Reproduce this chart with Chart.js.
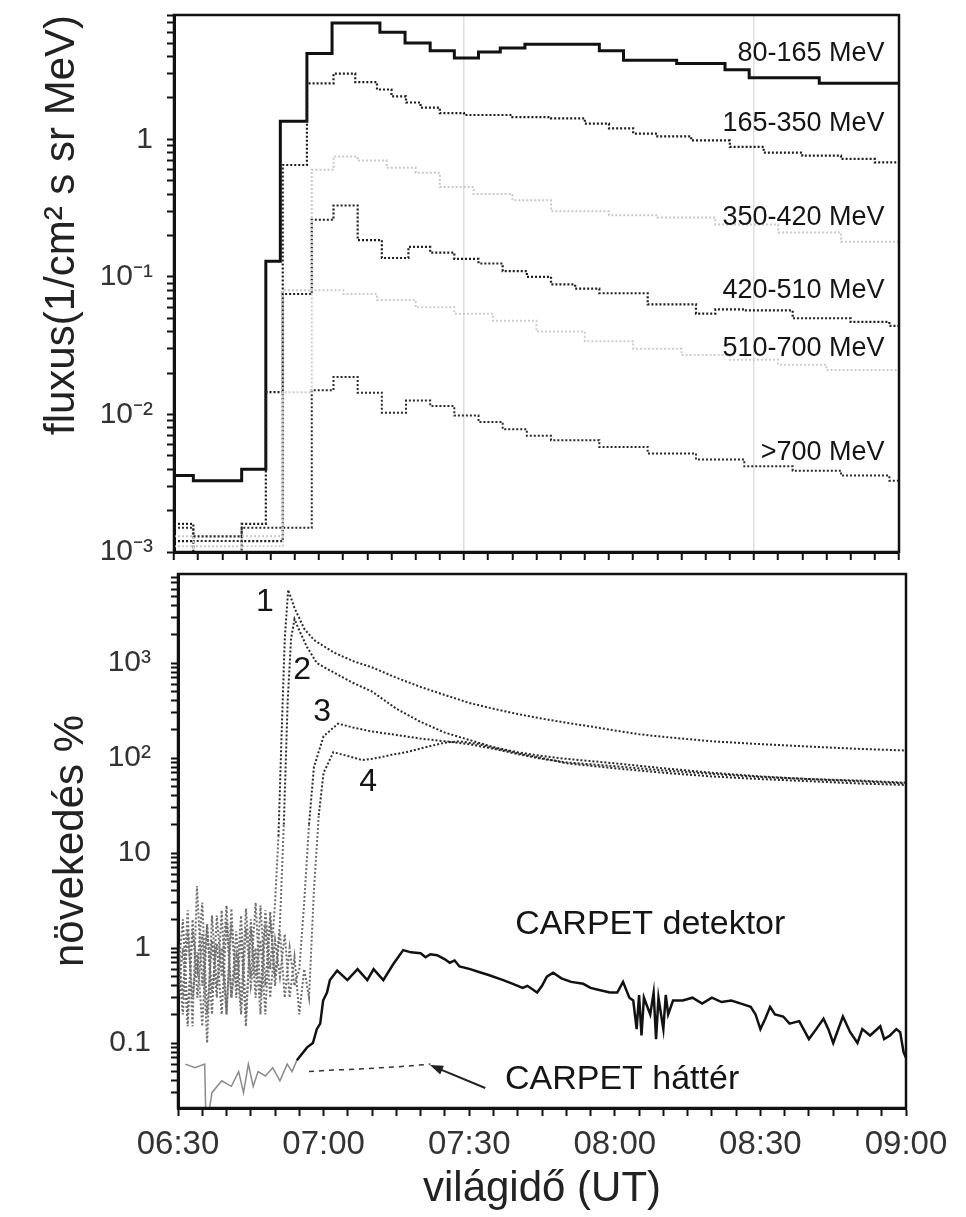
<!DOCTYPE html>
<html>
<head>
<meta charset="utf-8">
<script src="https://cdn.jsdelivr.net/npm/chart.js@4.4.1/dist/chart.umd.min.js"></script>
<style>
  html, body { margin: 0; padding: 0; background: #fff; }
  #wrap { position: relative; width: 966px; height: 1217px; overflow: hidden; }
  canvas { position: absolute; left: 0; }
  #fluxChart { top: 0; }
  #incChart { top: 560px; }
</style>
</head>
<body>
<div id="wrap">
  <canvas id="fluxChart" width="966" height="580"></canvas>
  <canvas id="incChart" width="966" height="657"></canvas>
</div>
<script>
// time is in minutes after 06:30 UT
var timeLabels = ['06:30', '07:00', '07:30', '08:00', '08:30', '09:00'];

var fluxTickVals = [0.001, 0.01, 0.1, 1];
var fluxTickText = ['10\u207B\u00B3', '10\u207B\u00B2', '10\u207B\u00B9', '1'];
var incTickVals = [0.1, 1, 10, 100, 1000];
var incTickText = ['0.1', '1', '10', '10\u00B2', '10\u00B3'];

// upper panel: proton flux per energy channel, [minute, flux]
var ch80 = [[0,0.0036],[4,0.0033],[14,0.0040],[19,0.13],[22,1.35],[27.5,4.2],[32.7,7.0],[42.6,6.0],[47.8,5.0],[53,4.4],
  [58,3.9],[63,4.3],[67.5,4.6],[72.6,4.9],[88,4.4],[93,3.75],[104,3.55],[114,3.2],[119,2.8],[133.5,2.55],[150,2.55]];
var ch165 = [[0,0.0016],[4,0.0013],[14,0.0016],[19,0.0145],[22.5,0.65],[27.5,2.55],[33,3.0],[37.5,2.6],[42,2.3],[45,2.05],
  [48,1.85],[51,1.7],[55,1.55],[60,1.5],[70,1.45],[78,1.42],[85,1.3],[90,1.2],[95,1.1],[100,1.05],[107,0.98],[115,0.88],
  [122,0.8],[130,0.76],[138,0.72],[145,0.68],[150,0.68]];
var ch350 = [[0,0.0013],[4,0.0011],[14,0.0013],[22.5,0.08],[28.5,0.6],[33,0.75],[38,0.7],[44,0.62],[50,0.57],[55,0.45],
  [62,0.4],[70,0.36],[78,0.3],[90,0.28],[100,0.27],[112,0.24],[125,0.21],[138,0.18],[150,0.16]];
var ch420 = [[0,0.0012],[4,0.001],[14,0.0012],[22.5,0.075],[28.5,0.26],[33,0.33],[38,0.185],[43,0.137],[48.5,0.165],[53,0.15],
  [58,0.135],[63,0.125],[68,0.11],[73,0.1],[78,0.088],[83,0.082],[88,0.076],[98,0.063],[108,0.054],[112,0.058],[118,0.057],
  [128,0.05],[140,0.047],[148,0.044],[150,0.044]];
var ch510 = [[0,0.0011],[4,0.001],[14,0.0011],[22.5,0.0145],[28.5,0.08],[35,0.075],[42,0.068],[50,0.06],[58,0.054],[66,0.048],
  [75,0.04],[85,0.034],[95,0.03],[105,0.027],[115,0.025],[125,0.023],[135,0.021],[150,0.02]];
var ch700 = [[0,0.0015],[4,0.0012],[14,0.0015],[28.5,0.015],[33,0.0187],[38,0.0144],[43,0.0103],[48,0.0126],[53,0.0115],
  [58,0.0098],[63,0.0088],[68,0.0078],[73,0.007],[78,0.0065],[88,0.0058],[98,0.0052],[108,0.0047],[118,0.0042],[128,0.0039],
  [138,0.0036],[148,0.0033],[150,0.0033]];

// lower panel: increase in % for neutron monitors 1-4 and CARPET, [minute, %]
var nm1 = [[0,1.2],[1,0.3],[2,2.5],[3,0.15],[3.9,4.5],[5,0.4],[6,1.8],[7,0.2],[8,2.2],[9,0.5],[10,2.8],[11,0.3],[12,1.5],
  [13,0.25],[14,2.6],[15,0.5],[16,3.0],[17,0.3],[18,2.5],[19,0.6],[20,3],[20.7,15],[21.3,150],[22,1800],[22.7,5900],[24,3800],
  [26,2300],[28,1750],[32,1300],[36,1050],[40,900],[45,700],[50,560],[55,460],[60,380],[65,330],[70,290],[75,260],[80,235],
  [85,215],[90,195],[95,178],[100,167],[110,150],[120,140],[130,132],[140,125],[150,120]];
var nm2 = [[0,0.5],[1,2.0],[2,0.2],[3,1.5],[4,0.6],[5,3.0],[6,0.2],[7,1.2],[8,0.3],[9,2.5],[10,0.2],[11,1.8],[12,0.4],[13,2.2],
  [14,0.2],[15,1.6],[16,0.3],[17,2.8],[18,0.4],[19,2.0],[20,0.5],[21,1.8],[21.8,20],[22.6,400],[23.3,1800],[24,2900],[25,2200],
  [26.5,1500],[28.6,1000],[32,800],[36,620],[40,500],[45,330],[50,240],[55,185],[60,155],[65,130],[70,115],[75,105],[80,98],
  [90,88],[100,78],[110,70],[120,64],[130,60],[140,58],[150,55]];
var nm3 = [[0,0.3],[1,1.0],[2,0.15],[3,2.0],[4,0.3],[5,1.4],[6,0.1],[7,2.2],[8,0.4],[9,1.0],[10,0.2],[11,2.6],[12,0.3],[13,1.3],
  [14,0.15],[15,2.0],[16,0.5],[17,1.2],[18,0.2],[19,2.4],[20,0.4],[21,1.5],[22,0.3],[23,1.0],[24,0.4],[25,0.6],[26,3],[27,20],
  [28,80],[30,170],[33,230],[36,210],[40,190],[45,175],[50,160],[55,150],[60,140],[65,125],[70,110],[75,98],[80,90],[90,82],
  [100,74],[110,68],[120,63],[130,60],[140,57],[150,54]];
var nm4 = [[0,0.8],[1,0.2],[2,1.5],[3,0.3],[4,0.9],[5,0.15],[6,1.7],[7,0.35],[8,1.1],[9,0.2],[10,1.9],[11,0.3],[12,0.8],
  [13,0.2],[14,1.6],[15,0.4],[16,1.0],[17,0.2],[18,1.8],[19,0.3],[20,1.2],[21,0.5],[22,1.4],[23,0.3],[24,0.8],[25,0.2],[26,0.6],
  [27,0.3],[28,4],[29,25],[30,70],[32,115],[35,105],[38,95],[41,100],[44,108],[47,115],[51,130],[55,145],[58,150],[62,140],
  [66,125],[70,112],[75,100],[80,88],[90,78],[100,70],[110,64],[120,60],[130,57],[140,54],[150,52]];
var carpet = [[1.5,0.06],[3.5,0.055],[5.5,0.06],[5.8,0.012],[7,0.03],[9,0.04],[11,0.035],[12.5,0.05],[13.5,0.03],[14.5,0.06],
  [15.5,0.035],[16.5,0.05],[18,0.045],[19.5,0.055],[21,0.04],[22.5,0.06],[23.5,0.05],[24.5,0.066],[26.6,0.09],[27.8,0.1],
  [28.6,0.14],[29.3,0.16],[29.9,0.28],[30.7,0.34],[31.3,0.46],[32.8,0.58],[34.9,0.46],[37,0.6],[39,0.46],[40.3,0.6],[42.3,0.46],
  [44.3,0.67],[46.4,0.95],[48,0.9],[50,0.88],[51,0.8],[52,0.86],[53.4,0.84],[55,0.76],[56,0.7],[57,0.74],[58,0.64],[60.2,0.6],
  [62,0.56],[64,0.52],[67,0.46],[69,0.42],[71,0.38],[72,0.4],[74,0.34],[75,0.4],[76,0.5],[77.3,0.55],[79,0.48],[81,0.44],
  [83.5,0.42],[85,0.38],[87,0.36],[89,0.34],[90.5,0.34],[91.7,0.44],[93,0.3],[93.8,0.28],[94.5,0.14],[95,0.32],[95.5,0.12],
  [96,0.3],[97.3,0.2],[98,0.34],[98.5,0.11],[99,0.3],[100,0.14],[100.5,0.32],[101,0.2],[102,0.28],[104,0.28],[106,0.3],
  [108,0.26],[110,0.3],[112,0.27],[114,0.28],[116,0.26],[118,0.24],[119,0.2],[120,0.14],[121,0.18],[122,0.24],[123,0.2],
  [124.7,0.19],[126,0.16],[128,0.17],[130,0.11],[131.5,0.14],[133,0.18],[134,0.14],[135,0.1],[137,0.19],[138.5,0.13],[140,0.1],
  [141,0.14],[142.6,0.12],[144.7,0.15],[145.5,0.11],[146.7,0.12],[148,0.14],[148.8,0.13],[149.5,0.08],[150,0.07]];
var carpetBg = [[27,0.05],[32,0.052],[37,0.053],[42,0.055],[47,0.057],[52,0.06]];

Chart.defaults.font.family = "'Liberation Sans', Arial, sans-serif";
Chart.defaults.color = '#333';

function pts(list) {
  return list.map(function (p) { return { x: p[0], y: p[1] }; });
}

function logTicks(lo, hi) {
  var out = [];
  for (var e = -4; e <= 4; e++) {
    for (var m = 1; m <= 9; m++) {
      var v = +(m * Math.pow(10, e)).toPrecision(6);
      if (v >= lo * 0.9999 && v <= hi * 1.0001) out.push({ value: v });
    }
  }
  return out;
}

function tickText(vals, text) {
  return function (v) {
    for (var i = 0; i < vals.length; i++) {
      if (Math.abs(vals[i] - v) < vals[i] * 1e-6) return text[i];
    }
    return '';
  };
}

// frame around the plot plus the text notes, placed in data coordinates
function framePlugin(notes, arrow) {
  return {
    id: 'frame',
    afterDatasetsDraw: function (chart) {
      var a = chart.chartArea, ctx = chart.ctx;
      var xs = chart.scales.x, ys = chart.scales.y;
      ctx.save();
      ctx.strokeStyle = '#111';
      ctx.lineWidth = 2.5;
      ctx.strokeRect(a.left, a.top, a.right - a.left, a.bottom - a.top);
      notes.forEach(function (n) {
        ctx.font = n.font;
        ctx.fillStyle = '#151515';
        ctx.textAlign = n.align || 'center';
        ctx.textBaseline = 'middle';
        ctx.fillText(n.text, xs.getPixelForValue(n.t), ys.getPixelForValue(n.v));
      });
      if (arrow) {
        var x0 = xs.getPixelForValue(arrow[0][0]), y0 = ys.getPixelForValue(arrow[0][1]);
        var x1 = xs.getPixelForValue(arrow[1][0]), y1 = ys.getPixelForValue(arrow[1][1]);
        var ang = Math.atan2(y1 - y0, x1 - x0);
        ctx.strokeStyle = '#222';
        ctx.fillStyle = '#222';
        ctx.lineWidth = 2;
        ctx.beginPath();
        ctx.moveTo(x0, y0);
        ctx.lineTo(x1 - 8 * Math.cos(ang), y1 - 8 * Math.sin(ang));
        ctx.stroke();
        ctx.beginPath();
        ctx.moveTo(x1, y1);
        ctx.lineTo(x1 - 14 * Math.cos(ang - 0.35), y1 - 14 * Math.sin(ang - 0.35));
        ctx.lineTo(x1 - 14 * Math.cos(ang + 0.35), y1 - 14 * Math.sin(ang + 0.35));
        ctx.closePath();
        ctx.fill();
      }
      ctx.restore();
    }
  };
}

var chanFont = '27px "Liberation Sans", Arial, sans-serif';
var fluxNotes = [
  { text: '80-165 MeV', t: 147, v: 4.2, font: chanFont, align: 'right' },
  { text: '165-350 MeV', t: 147, v: 1.31, font: chanFont, align: 'right' },
  { text: '350-420 MeV', t: 147, v: 0.27, font: chanFont, align: 'right' },
  { text: '420-510 MeV', t: 147, v: 0.08, font: chanFont, align: 'right' },
  { text: '510-700 MeV', t: 147, v: 0.03, font: chanFont, align: 'right' },
  { text: '>700 MeV', t: 147, v: 0.0053, font: chanFont, align: 'right' }
];

var numFont = '32px "Liberation Sans", Arial, sans-serif';
var carpetFont = '34px "Liberation Sans", Arial, sans-serif';
var incNotes = [
  { text: '1', t: 17.9, v: 4380, font: numFont },
  { text: '2', t: 25.6, v: 845, font: numFont },
  { text: '3', t: 29.7, v: 305, font: numFont },
  { text: '4', t: 39.2, v: 56, font: numFont },
  { text: 'CARPET detektor', t: 97.3, v: 1.75, font: carpetFont },
  { text: 'CARPET h\u00E1tt\u00E9r', t: 91.5, v: 0.041, font: carpetFont }
];

function stepLine(data, color, width, dash) {
  return {
    data: pts(data), borderColor: color, borderWidth: width, borderDash: dash,
    stepped: 'before', pointRadius: 0, fill: false
  };
}

new Chart(document.getElementById('fluxChart'), {
  type: 'line',
  data: {
    datasets: [
      stepLine(ch350, '#c9c9c9', 2, [2, 2]),
      stepLine(ch510, '#cdcdcd', 2, [2, 2]),
      stepLine(ch700, '#2a2a2a', 2, [2, 2]),
      stepLine(ch420, '#1e1e1e', 2.2, [2, 2]),
      stepLine(ch165, '#1e1e1e', 2.2, [2, 2]),
      stepLine(ch80, '#111', 3, [])
    ]
  },
  options: {
    responsive: false,
    animation: false,
    devicePixelRatio: 1,
    layout: { padding: { top: 15, right: 67, left: 0, bottom: 0 } },
    plugins: { legend: { display: false }, tooltip: { enabled: false } },
    scales: {
      x: {
        type: 'linear', min: 0, max: 150,
        ticks: { display: false, stepSize: 5, autoSkip: false },
        grid: {
          color: function (c) { return (c.tick && (c.tick.value === 60 || c.tick.value === 120)) ? '#dedede' : 'rgba(0,0,0,0)'; },
          lineWidth: 1.5,
          tickColor: '#111', tickLength: 8, tickWidth: 2
        },
        border: { color: '#111', width: 3 },
        afterFit: function (s) { s.height = 28; s.paddingLeft = 0; s.paddingRight = 0; }
      },
      y: {
        type: 'logarithmic', min: 0.001, max: 8,
        afterBuildTicks: function (s) { s.ticks = logTicks(0.001, 8); },
        ticks: {
          autoSkip: false, padding: 14, color: '#333',
          font: { size: 30 },
          callback: tickText(fluxTickVals, fluxTickText)
        },
        grid: { drawOnChartArea: false, tickColor: '#111', tickLength: 7, tickWidth: 2 },
        border: { color: '#111', width: 3 },
        title: {
          display: true, text: 'fluxus(1/cm\u00B2 s sr MeV)', align: 'end', color: '#222',
          font: { size: 42 }, padding: { top: 37, bottom: 0 }
        },
        afterFit: function (s) { s.width = 174; s.paddingTop = 0; s.paddingBottom = 0; }
      }
    }
  },
  plugins: [framePlugin(fluxNotes, null)]
});

function monitorLine(data) {
  return {
    data: pts(data), borderColor: '#333', borderWidth: 2, borderDash: [2, 2],
    pointRadius: 0, fill: false, tension: 0,
    segment: {
      borderColor: function (c) { return Math.min(c.p0.parsed.y, c.p1.parsed.y) < 8 ? '#6e6e6e' : '#2a2a2a'; }
    }
  };
}

new Chart(document.getElementById('incChart'), {
  type: 'line',
  data: {
    datasets: [
      monitorLine(nm4),
      monitorLine(nm3),
      monitorLine(nm2),
      monitorLine(nm1),
      { data: pts(carpetBg), borderColor: '#333', borderWidth: 1.5, borderDash: [5, 5], pointRadius: 0, fill: false },
      {
        data: pts(carpet), borderColor: '#111', borderWidth: 2.5, pointRadius: 0, fill: false, tension: 0,
        segment: {
          borderColor: function (c) { return c.p1.parsed.x < 25 ? '#8a8a8a' : '#111'; },
          borderWidth: function (c) { return c.p1.parsed.x < 25 ? 1.5 : 2.5; }
        }
      }
    ]
  },
  options: {
    responsive: false,
    animation: false,
    devicePixelRatio: 1,
    layout: { padding: { top: 14, right: 60, left: 0, bottom: 0 } },
    plugins: { legend: { display: false }, tooltip: { enabled: false } },
    scales: {
      x: {
        type: 'linear', min: 0, max: 150,
        ticks: {
          stepSize: 5, autoSkip: false, maxRotation: 0, padding: 9, color: '#333',
          font: { size: 33 },
          callback: function (v) { return v % 30 === 0 ? timeLabels[v / 30] : ''; }
        },
        grid: { drawOnChartArea: false, tickColor: '#111', tickLength: 8, tickWidth: 2 },
        border: { color: '#111', width: 3 },
        title: {
          display: true, text: 'vil\u00E1gid\u0151 (UT)', color: '#222',
          font: { size: 42 }, padding: { top: 0, bottom: 2 }
        },
        afterFit: function (s) { s.height = 109; s.paddingLeft = 0; s.paddingRight = 0; }
      },
      y: {
        type: 'logarithmic', min: 0.0207, max: 8650,
        afterBuildTicks: function (s) { s.ticks = logTicks(0.0207, 8650); },
        ticks: {
          autoSkip: false, padding: 20, color: '#333',
          font: { size: 30 },
          callback: tickText(incTickVals, incTickText)
        },
        grid: { drawOnChartArea: false, tickColor: '#111', tickLength: 7, tickWidth: 2 },
        border: { color: '#111', width: 3 },
        title: {
          display: true, text: 'n\u00F6veked\u00E9s %', color: '#222',
          font: { size: 42 }, padding: { top: 46, bottom: 0 }
        },
        afterFit: function (s) { s.width = 178; s.paddingTop = 0; s.paddingBottom = 0; }
      }
    }
  },
  plugins: [framePlugin(incNotes, [[63.3, 0.0336], [51.9, 0.0586]])]
});
</script>
</body>
</html>
